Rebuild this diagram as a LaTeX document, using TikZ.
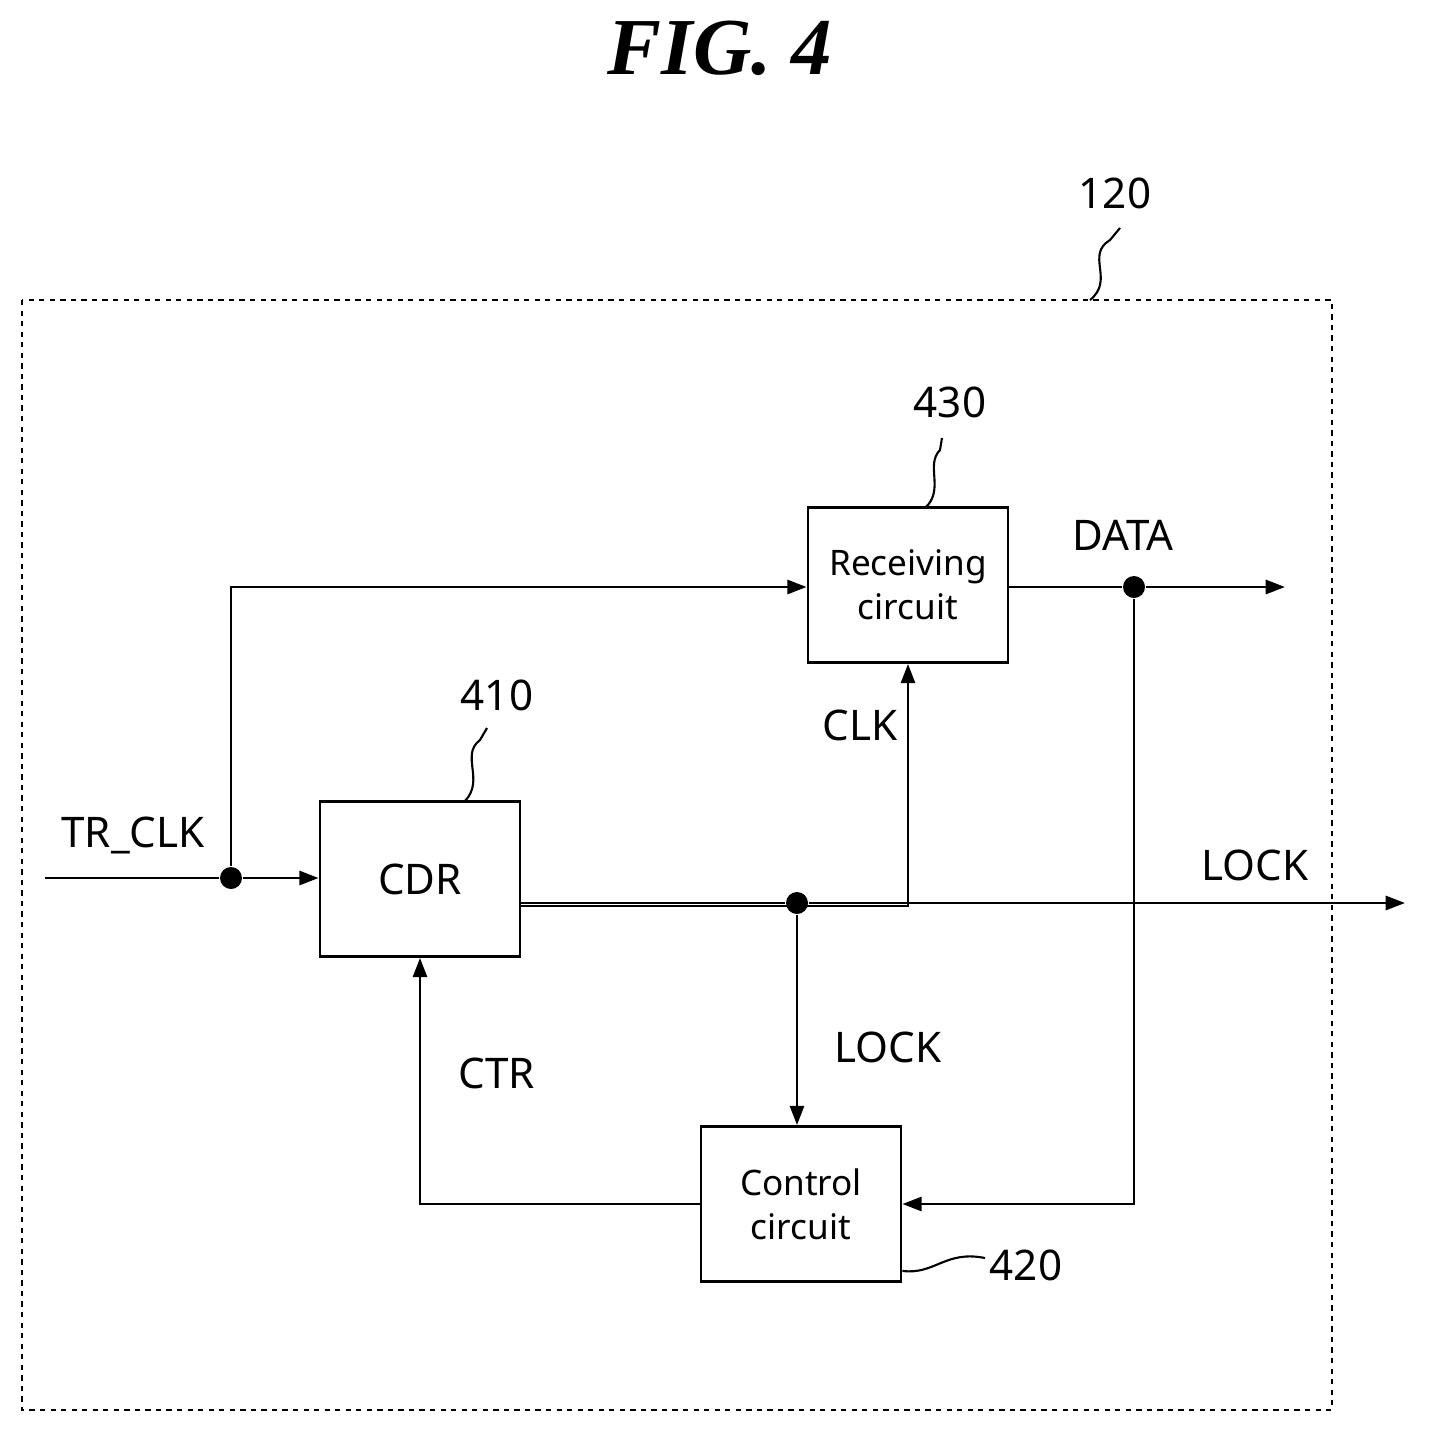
\documentclass[tikz,border=0pt]{standalone}
\usepackage{fontspec}
\setmainfont{Liberation Serif}
\setsansfont{Noto Sans}
\usetikzlibrary{arrows.meta,positioning}

\begin{document}
\begin{tikzpicture}[x=0.02cm,y=-0.02cm,line width=1.6pt,
    >={Triangle[length=11pt,width=8pt]},
    block/.style={draw,minimum width=4cm,minimum height=3.1cm,
      align=center,font=\sffamily\bfseries\fontsize{20}{25}\selectfont},
    lbl/.style={font=\sffamily\bfseries\fontsize{24}{28}\selectfont},
    dot/.style={circle,fill,inner sep=0pt,minimum size=0.44cm},
    squig/.style={line width=1.2pt}]
  \useasboundingbox (0,0) rectangle (1428,1434);

  \node[font=\bfseries\itshape\fontsize{46}{50}\selectfont] (fig) at (720,48) {FIG. 4};
  \draw[dashed,line width=1.4pt] (22,300) rectangle (1332,1410);

  % blocks
  \node[block] (RX)  at (908,585)  {Receiving\\circuit};
  \node[block,font=\sffamily\bfseries\fontsize{24}{28}\selectfont] (CDR) at (420,879) {CDR};
  \node[block] (CTL) at (801,1204) {Control\\circuit};

  % junctions and free ends
  \node[dot] (j1) at (231,878) {};
  \node[dot] (j2) at (797,903) {};
  \node[dot] (j3) at (1134,587) {};
  \coordinate (in)   at (45,878);
  \coordinate (dout) at (1285,587);
  \coordinate (lout) at (1405,903);

  % connectors
  \draw (in) -- (j1);
  \draw[->] (j1) -- (CDR.west |- j1);
  \draw[->] (j1) |- (RX.west |- j3);
  \draw (RX.east |- j3) -- (j3);
  \draw[->] (j3) -- (dout);
  \draw[->] (j3) |- (CTL.east);
  \draw[->] ([yshift=-0.54cm]CDR.east) -| (RX.south);
  \draw (CDR.east |- j2) -- (j2);
  \draw[->] (j2) -- (lout);
  \draw[->] (j2) -- (CTL.north -| j2);
  \draw[->] (CTL.west) -| (CDR.south);

  % signal labels
  \node[lbl] (ltr)   at (133,835)  {TR\_CLK};
  \node[lbl] (lclk)  at (860,725)  {CLK};
  \node[lbl] (ldata) at (1123,535) {DATA};
  \node[lbl] (llk1)  at (1255,865) {LOCK};
  \node[lbl] (llk2)  at (888,1047) {LOCK};
  \node[lbl] (lctr)  at (497,1073) {CTR};

  % reference numerals
  \node[lbl] (n120) at (1115,193) {120};
  \node[lbl] (n410) at (497,695)  {410};
  \node[lbl] (n430) at (950,402)  {430};
  \node[lbl] (n420) at (1026,1265) {420};
  \draw[squig] (1090,300) .. controls (1115,280) and (1085,255) .. (1110,240) -- (1120,228);
  \draw[squig] (465,801) .. controls (485,780) and (460,755) .. (480,740) -- (487,728);
  \draw[squig] (925,508) .. controls (945,490) and (925,465) .. (940,450) -- (942,438);
  \draw[squig] (CTL.south east) ++(0,-12) .. controls (935,1275) and (945,1250) .. (985,1258);
\end{tikzpicture}
\end{document}
